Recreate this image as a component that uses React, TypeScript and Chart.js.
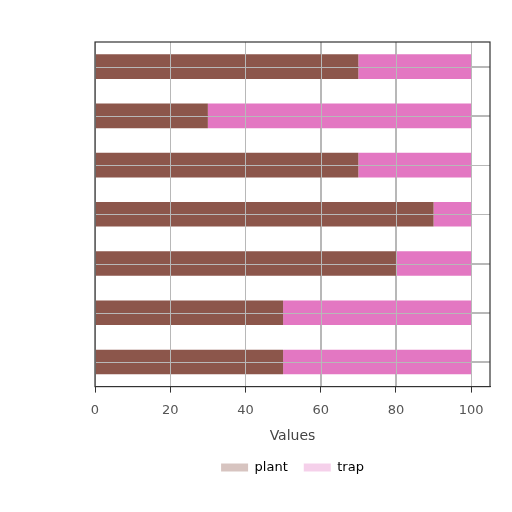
import { useEffect, useRef } from "react"
import { Chart, registerables } from "chart.js"

Chart.register(...registerables)

const categories = ["1", "2", "3", "4", "5", "6", "7"]
const plantValues = [70, 30, 70, 90, 80, 50, 50]
const trapValues = [30, 70, 30, 10, 20, 50, 50]
const xTicks = [0, 20, 40, 60, 80, 100]

const GRID = "#b8b8b8"

// redraw grid over the bars and a frame round the plot area
const overlayPlugin = {
  id: "overlay",
  afterDatasetsDraw(chart: Chart) {
    const { ctx, chartArea, scales } = chart
    ctx.save()
    ctx.strokeStyle = GRID
    ctx.lineWidth = 1
    ctx.beginPath()
    scales.x.ticks.forEach((t) => {
      const px = Math.round(scales.x.getPixelForValue(t.value)) + 0.5
      ctx.moveTo(px, chartArea.top)
      ctx.lineTo(px, chartArea.bottom)
    })
    scales.y.ticks.forEach((_, i) => {
      const py = Math.round(scales.y.getPixelForTick(i)) + 0.5
      ctx.moveTo(chartArea.left, py)
      ctx.lineTo(chartArea.right, py)
    })
    ctx.stroke()
    ctx.strokeStyle = "#333"
    ctx.lineWidth = 1.2
    ctx.strokeRect(chartArea.left, chartArea.top, chartArea.right - chartArea.left, chartArea.bottom - chartArea.top)
    ctx.restore()
  },
}

export default function App() {
  const chartRef = useRef<HTMLCanvasElement>(null)
  const chartInstance = useRef<Chart | null>(null)

  useEffect(() => {
    if (!chartRef.current) return
    if (chartInstance.current) chartInstance.current.destroy()

    const ctx = chartRef.current.getContext("2d")
    if (!ctx) return

    chartInstance.current = new Chart(ctx, {
      type: "bar",
      data: {
        labels: categories,
        datasets: [
          {
            label: "plant",
            data: plantValues,
            backgroundColor: "#8c564b",
            barPercentage: 0.5,
            categoryPercentage: 1,
          },
          {
            label: "trap",
            data: trapValues,
            backgroundColor: "#e377c2",
            barPercentage: 0.5,
            categoryPercentage: 1,
          },
        ],
      },
      plugins: [overlayPlugin],
      options: {
        indexAxis: "y",
        animation: false,
        responsive: false,
        layout: { padding: { left: 95, right: 22, top: 42, bottom: 28 } },
        scales: {
          x: {
            stacked: true,
            min: 0,
            max: 105,
            afterBuildTicks: (scale) => {
              scale.ticks = xTicks.map((v) => ({ value: v }))
            },
            grid: { color: GRID, tickLength: 6, tickColor: "#333" },
            border: { color: "#333" },
            ticks: { color: "#555", font: { family: "DejaVu Sans", size: 13 }, padding: 10 },
            title: {
              display: true,
              text: "Values",
              color: "#444",
              font: { family: "DejaVu Sans", size: 14 },
              padding: { top: 0, bottom: 0 },
            },
          },
          y: {
            stacked: true,
            grid: { color: GRID, offset: false, tickLength: 0 },
            border: { color: "#333" },
            ticks: { display: false },
          },
        },
        plugins: {
          legend: {
            position: "bottom",
            labels: {
              color: "#777",
              font: { family: "DejaVu Sans", size: 13 },
              boxWidth: 27,
              boxHeight: 8,
              padding: 16,
              generateLabels: (chart) =>
                chart.data.datasets.map((ds, i) => ({
                  text: ds.label as string,
                  fillStyle: i === 0 ? "rgba(140,86,75,0.35)" : "rgba(227,119,194,0.35)",
                  strokeStyle: "rgba(0,0,0,0)",
                  lineWidth: 0,
                  datasetIndex: i,
                  hidden: false,
                })),
            },
          },
          tooltip: { enabled: false },
        },
      },
    })

    return () => {
      if (chartInstance.current) chartInstance.current.destroy()
    }
  }, [])

  return (
    <div style={{ position: "absolute", left: 0, top: 0, width: 512, height: 512, background: "#fff" }}>
      <canvas ref={chartRef} width={512} height={512} />
    </div>
  )
}
